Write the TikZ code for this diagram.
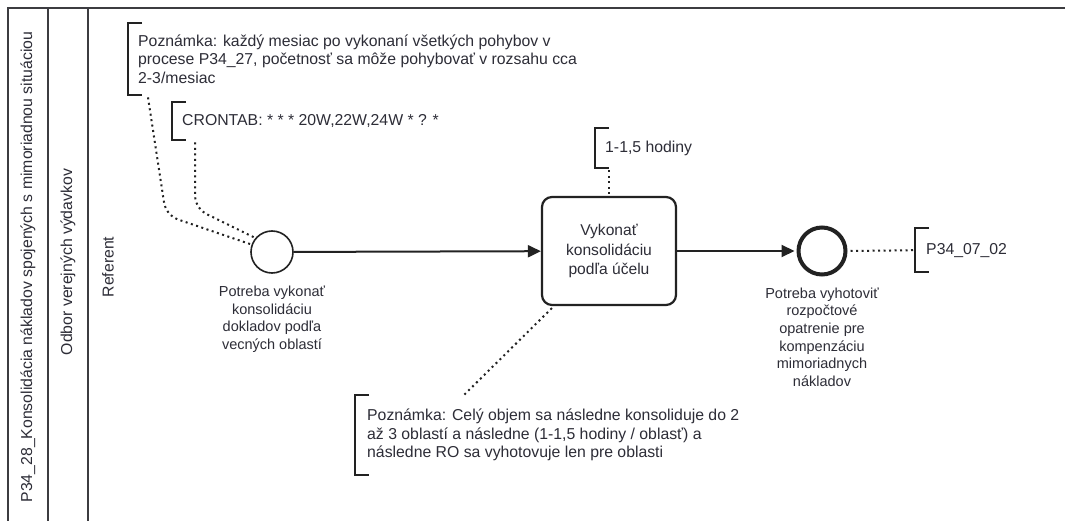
\documentclass[tikz,border=0pt]{standalone}
\usepackage{fontspec}
\setmainfont{Liberation Sans}
\usetikzlibrary{arrows.meta,calc}
\definecolor{ink}{RGB}{45,45,55}
\definecolor{stroke}{RGB}{34,34,34}
\definecolor{poolline}{RGB}{60,60,64}
\begin{document}
\begin{tikzpicture}[x=1pt,y=-1pt,
  every node/.style={text=ink},
  lanetxt/.style={rotate=90,inner sep=0pt,font=\fontsize{15.8}{18}\selectfont},
  evt/.style={circle,draw=stroke,line width=1.6pt,minimum size=42pt,inner sep=0pt},
  endevt/.style={circle,draw=stroke,line width=4pt,minimum size=47pt,inner sep=0pt},
  taskbox/.style={draw=stroke,line width=2.2pt,rounded corners=10pt,minimum width=134pt,
    minimum height=108pt,align=center,font=\fontsize{15.6}{19.5}\selectfont},
  evtlabel/.style={anchor=north,align=center,inner sep=0pt,font=\fontsize{14.5}{17.6}\selectfont},
  note/.style={anchor=north west,align=left,inner xsep=10pt,inner ysep=0pt,
    font=\fontsize{15.8}{18.5}\selectfont},
  bracket/.style={draw=stroke,line width=2pt},
  flow/.style={draw=stroke,line width=2pt,-{Triangle[length=13pt,width=12pt]}},
  assoc/.style={draw=stroke,line width=2pt,dash pattern=on 2pt off 3.5pt,rounded corners=12pt},
]
\useasboundingbox (0,0) rectangle (1065,521);
\fill[white] (0,0) rectangle (1065,521);

% pool and lane frame
\draw[poolline,line width=2pt] (8,521) -- (8,8) -- (1065,8);
\draw[poolline,line width=2pt] (48,8) -- (48,521);
\draw[poolline,line width=2pt] (88,8) -- (88,521);
\node[lanetxt] (pool) at (28,267) {P34\_28\_Konsolidácia nákladov spojených s mimoriadnou situáciou};
\node[lanetxt] (dept) at (68,262) {Odbor verejných výdavkov};
\node[lanetxt] (role) at (108,267) {Referent};

% flow elements
\node[evt] (start) at (272,252) {};
\node[taskbox] (task) at (609,251) {Vykonať\\konsolidáciu\\podľa účelu};
\node[endevt] (end) at (822,251) {};

\node[evtlabel] (startlbl) at ($(start.south)+(0,12)$)
  {Potreba vykonať\\konsolidáciu\\dokladov podľa\\vecných oblastí};
\node[evtlabel] (endlbl) at ($(end.south)+(0,11)$)
  {Potreba vyhotoviť\\rozpočtové\\opatrenie pre\\kompenzáciu\\mimoriadnych\\nákladov};

\draw[flow] (start) -- (task);
\draw[flow,shorten >=2pt] (task) -- (end);

% text annotations
\node[note,minimum height=72pt] (n1) at (128,23)
  {Poznámka: každý mesiac po vykonaní všetkých pohybov v\\procese P34\_27, početnosť sa môže pohybovať v rozsahu cca\\2-3/mesiac};
\node[note,minimum height=38pt] (n2) at (172,102) {CRONTAB: * * * 20W,22W,24W * ? *};
\node[note,minimum height=40pt] (n3) at (595,128) {1-1,5 hodiny};
\node[note,minimum height=80pt,inner xsep=12pt] (n4) at (355,395)
  {Poznámka: Celý objem sa následne konsoliduje do 2\\až 3 oblastí a následne (1-1,5 hodiny / oblasť) a\\následne RO sa vyhotovuje len pre oblasti};
\node[note,minimum height=44pt,inner xsep=11pt] (n5) at (915,228) {P34\_07\_02};

\foreach \n in {n1,n2,n3,n4,n5}{
  \draw[bracket] ($(\n.north west)+(14,0)$) -- (\n.north west) -- (\n.south west) -- ++(14,0);
}

% associations
\coordinate (n1foot) at ($(n1.south west)+(20,2)$);
\draw[assoc] (n1foot) -- ++(18,118) -- (start.160);
\coordinate (n2foot) at ($(n2.south west)+(23,2)$);
\draw[assoc] (n2foot) -- ++(0,66) -- (start.140);
\draw[assoc] ($(n3.south west)+(14,2)$) -- (task.north);
\draw[assoc] ($(task.south west)+(11,2)$) -- ($(n4.north west)+(109,0)$);
\draw[assoc] ($(end.east)+(3,0)$) -- (n5.west);
\end{tikzpicture}
\end{document}
